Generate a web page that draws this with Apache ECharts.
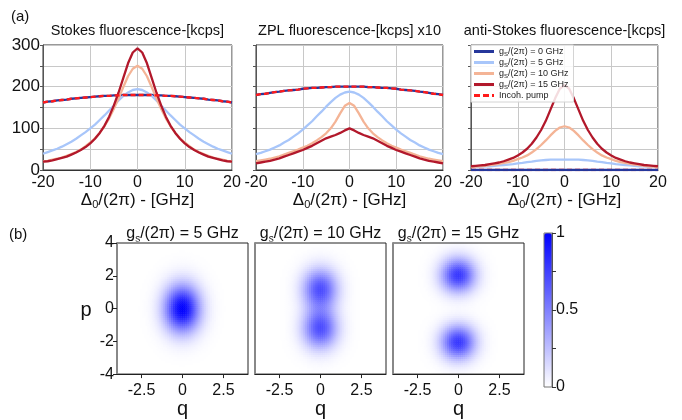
<!DOCTYPE html>
<html>
<head>
<meta charset="utf-8">
<script src="https://cdn.jsdelivr.net/npm/echarts@6/dist/echarts.min.js"></script>
<style>
  html, body { margin: 0; padding: 0; background: #ffffff; }
  #chart { width: 682px; height: 420px; }
</style>
</head>
<body>
<div id="chart"></div>
<script>
// Laser detuning Δ0/(2π) in GHz
const detuning = [-20,-19,-18,-17,-16,-15,-14,-13,-12,-11,-10,-9,-8,-7,-6,-5,-4,-3,-2,-1,0,
  1,2,3,4,5,6,7,8,9,10,11,12,13,14,15,16,17,18,19,20];

// Stokes fluorescence [kcps]
const stokesG0 = [162,164,165,167,168,169,171,172,173,174,175,176,177,178,178,179,179,180,180,180,180,
  180,180,180,179,179,178,178,177,176,175,174,173,172,171,169,168,167,165,164,162];
const stokesG5 = [39,43,47,51,56,62,68,75,83,91,100,109,120,131,143,155,167,178,186,192,194,
  192,186,178,167,155,143,131,120,109,100,91,83,75,68,62,56,51,47,43,39];
const stokesG10 = [21,22,25,27,30,34,38,43,49,57,66,76,89,105,124,147,172,199,225,243,250,
  243,225,199,172,147,124,105,89,76,66,57,49,43,38,34,30,27,25,22,21];
const stokesG15 = [20,21,23,26,29,32,37,42,48,55,64,75,89,106,128,155,186,221,256,282,292,
  282,256,221,186,155,128,106,89,75,64,55,48,42,37,32,29,26,23,21,20];
const stokesIncoh = [162,164,165,167,168,169,171,172,173,174,175,176,177,178,178,179,179,180,180,180,180,
  180,180,180,179,179,178,178,177,176,175,174,173,172,171,169,168,167,165,164,162];

// ZPL fluorescence [kcps] x10
const zplG0 = [180,182,183,185,187,188,190,191,192,193,195,196,197,197,198,199,199,200,200,200,200,
  200,200,200,199,199,198,197,197,196,195,193,192,191,190,188,187,185,183,182,180];
const zplG5 = [38,41,45,49,54,59,66,72,80,88,97,107,117,129,140,152,163,173,181,186,188,
  186,181,173,163,152,140,129,117,107,97,88,80,72,66,59,54,49,45,41,38];
const zplG10 = [21,23,25,27,30,33,37,41,45,49,54,58,64,71,79,88,100,116,136,154,161,
  154,136,116,100,88,79,71,64,58,54,49,45,41,37,33,30,27,25,23,21];
const zplG15 = [16,18,20,22,25,28,32,36,40,44,48,53,58,64,70,76,80,84,89,95,100,
  95,89,84,80,76,70,64,58,53,48,44,40,36,32,28,25,22,20,18,16];
const zplIncoh = [180,182,183,185,187,188,190,191,192,193,195,196,197,197,198,199,199,200,200,200,200,
  200,200,200,199,199,198,197,197,196,195,193,192,191,190,188,187,185,183,182,180];

// anti-Stokes fluorescence [kcps]
const antiG0 = [0,0,0,0,0,0,0,0,0,0,0,0,0,0,0,0,0,0,0,0,0,
  0,0,0,0,0,0,0,0,0,0,0,0,0,0,0,0,0,0,0,0];
const antiG5 = [7,8,8,9,9,10,11,12,13,14,16,17,19,20,22,23,24,25,25,25,25,
  25,25,25,24,23,22,20,19,17,16,14,13,12,11,10,9,9,8,8,7];
const antiG10 = [7,8,9,10,12,13,15,17,19,22,26,30,35,42,50,60,71,83,94,102,105,
  102,94,83,71,60,50,42,35,30,26,22,19,17,15,13,12,10,9,8,7];
const antiG15 = [9,10,11,12,14,16,18,21,25,29,35,42,51,63,78,96,118,145,172,195,204,
  195,172,145,118,96,78,63,51,42,35,29,25,21,18,16,14,12,11,10,9];
const antiIncoh = [0,0,0,0,0,0,0,0,0,0,0,0,0,0,0,0,0,0,0,0,0,
  0,0,0,0,0,0,0,0,0,0,0,0,0,0,0,0,0,0,0,0];

const seriesNames = ['gS/(2π) = 0 GHz', 'gS/(2π) = 5 GHz', 'gS/(2π) = 10 GHz', 'gS/(2π) = 15 GHz', 'Incoh. pump'];
const panelTitles = ['Stokes fluorescence-[kcps]', 'ZPL fluorescence-[kcps] x10', 'anti-Stokes fluorescence-[kcps]'];
const yTicks = [0, 100, 200, 300];

// Phase-space grid (q and p share the same sampling)
const qGrid = [-4,-3.875,-3.75,-3.625,-3.5,-3.375,-3.25,-3.125,-3,-2.875,-2.75,-2.625,-2.5,-2.375,-2.25,-2.125,
  -2,-1.875,-1.75,-1.625,-1.5,-1.375,-1.25,-1.125,-1,-0.875,-0.75,-0.625,-0.5,-0.375,-0.25,-0.125,0,
  0.125,0.25,0.375,0.5,0.625,0.75,0.875,1,1.125,1.25,1.375,1.5,1.625,1.75,1.875,2,
  2.125,2.25,2.375,2.5,2.625,2.75,2.875,3,3.125,3.25,3.375,3.5,3.625,3.75,3.875,4];
const pGrid = qGrid;

// Normalised distribution cross-sections along q (at the lobe centre) and along p (at q = 0)
const qProfileG5 = [0,0,0,0,0,0,0,0,0,0.001,0.001,0.002,0.004,0.007,0.011,0.018,0.029,0.044,0.066,0.096,0.135,
  0.186,0.249,0.325,0.411,0.506,0.607,0.707,0.801,0.882,0.946,0.986,1,
  0.986,0.946,0.882,0.801,0.707,0.607,0.506,0.411,0.325,0.249,0.186,0.135,0.096,0.066,0.044,0.029,
  0.018,0.011,0.007,0.004,0.002,0.001,0.001,0,0,0,0,0,0,0,0,0];
const pProfileG5 = [0,0.001,0.001,0.001,0.002,0.003,0.005,0.008,0.011,0.016,0.023,0.032,0.044,0.060,0.080,0.105,
  0.135,0.172,0.216,0.267,0.325,0.389,0.458,0.531,0.607,0.682,0.755,0.823,0.882,0.932,0.969,0.992,1,
  0.992,0.969,0.932,0.882,0.823,0.755,0.682,0.607,0.531,0.458,0.389,0.325,0.267,0.216,0.172,0.135,
  0.105,0.080,0.060,0.044,0.032,0.023,0.016,0.011,0.008,0.005,0.003,0.002,0.001,0.001,0.001,0];
const qProfileG10 = [0,0,0,0,0,0,0,0,0,0,0.001,0.001,0.002,0.004,0.008,0.013,0.021,0.034,0.052,0.078,0.114,
  0.161,0.222,0.295,0.381,0.478,0.581,0.686,0.786,0.873,0.941,0.985,1,
  0.985,0.941,0.873,0.786,0.686,0.581,0.478,0.381,0.295,0.222,0.161,0.114,0.078,0.052,0.034,0.021,
  0.013,0.008,0.004,0.002,0.001,0.001,0,0,0,0,0,0,0,0,0,0];
const pProfileG10 = [0.003,0.005,0.008,0.012,0.018,0.026,0.038,0.053,0.073,0.099,0.131,0.169,0.214,0.265,0.322,0.382,
  0.443,0.504,0.561,0.612,0.653,0.683,0.699,0.704,0.696,0.676,0.649,0.618,0.585,0.555,0.531,0.515,0.509,
  0.515,0.531,0.555,0.585,0.618,0.649,0.676,0.696,0.704,0.699,0.683,0.653,0.612,0.561,0.504,0.443,
  0.382,0.322,0.265,0.214,0.169,0.131,0.099,0.073,0.053,0.038,0.026,0.018,0.012,0.008,0.005,0.003];
const qProfileG15 = [0,0,0,0,0,0,0,0,0,0,0.001,0.001,0.002,0.004,0.008,0.013,0.021,0.034,0.052,0.078,0.114,
  0.161,0.222,0.295,0.381,0.478,0.581,0.686,0.786,0.873,0.941,0.985,1,
  0.985,0.941,0.873,0.786,0.686,0.581,0.478,0.381,0.295,0.222,0.161,0.114,0.078,0.052,0.034,0.021,
  0.013,0.008,0.004,0.002,0.001,0.001,0,0,0,0,0,0,0,0,0,0];
const pProfileG15 = [0.020,0.031,0.048,0.071,0.103,0.143,0.194,0.256,0.327,0.405,0.486,0.567,0.642,0.704,0.751,0.776,
  0.778,0.757,0.715,0.655,0.583,0.503,0.421,0.342,0.269,0.206,0.153,0.111,0.078,0.055,0.039,0.030,0.027,
  0.030,0.039,0.055,0.078,0.111,0.153,0.206,0.269,0.342,0.421,0.503,0.583,0.655,0.715,0.757,0.778,
  0.776,0.751,0.704,0.642,0.567,0.486,0.405,0.327,0.256,0.194,0.143,0.103,0.071,0.048,0.031,0.020];
const couplingLabels = ['5', '10', '15'];
const qTicks = [-2.5, 0, 2.5];
const colorbarLabels = [0, 0.5, 1];

// ---------------------------------------------------------------------------
const FONT = "'Liberation Sans', Arial, Helvetica, sans-serif";
const COLORS = ['#26379b', '#a8c6fa', '#f4b496', '#b2182b', '#ff1a1a'];
const SOLID_ICON = 'path://M0,0H20V3H0Z';
const DASH_ICON = 'path://M0,0H6V3H0Z M9,0H15V3H9Z M18,0H20V3H18Z';

const lineRects = [
  { left: 43, top: 45, width: 189, height: 125 },
  { left: 256, top: 45, width: 187, height: 125 },
  { left: 471, top: 45, width: 187, height: 125 }
];
const mapRects = [
  { left: 117, top: 243, width: 131, height: 133 },
  { left: 255, top: 243, width: 131, height: 133 },
  { left: 393, top: 243, width: 131, height: 133 }
];
const barRect = { left: 544, top: 233, width: 8, height: 154 };

const panelData = [
  [stokesG0, stokesG5, stokesG10, stokesG15, stokesIncoh],
  [zplG0, zplG5, zplG10, zplG15, zplIncoh],
  [antiG0, antiG5, antiG10, antiG15, antiIncoh]
];
const mapProfiles = [
  [qProfileG5, pProfileG5],
  [qProfileG10, pProfileG10],
  [qProfileG15, pProfileG15]
];

const grids = [], xAxes = [], yAxes = [], series = [], graphics = [];

const deltaName = '{t|Δ}{s|0}{t|/(2}{t|π}{t|) - [GHz]}';
const deltaRich = {
  t: { fontSize: 17, fontFamily: FONT, color: '#111', lineHeight: 20 },
  s: { fontSize: 11, fontFamily: FONT, color: '#111', lineHeight: 12, verticalAlign: 'bottom' }
};

lineRects.forEach((r, k) => {
  grids.push(Object.assign({ show: true, borderColor: '#333', borderWidth: 1, z: 0 }, r));
  xAxes.push({
    type: 'value', gridIndex: k, min: -20, max: 20, interval: 10,
    axisLine: { show: true, onZero: false, lineStyle: { color: '#333', width: 1 } },
    axisTick: { show: false },
    axisLabel: { fontSize: 16, fontFamily: FONT, color: '#111', margin: 5 },
    splitLine: { show: true, lineStyle: { color: '#c8c8c8', width: 1 } },
    name: deltaName, nameLocation: 'middle', nameGap: 16,
    nameTextStyle: { rich: deltaRich }
  });
  yAxes.push({
    type: 'value', gridIndex: k, min: 0, max: 300, interval: 50,
    axisLine: { show: true, onZero: false, lineStyle: { color: '#555', width: 1 } },
    axisTick: { show: true, length: 3, lineStyle: { color: '#555' } },
    axisLabel: {
      show: k === 0, fontSize: 17, fontFamily: FONT, color: '#111', margin: 3,
      formatter: v => (yTicks.indexOf(v) >= 0 ? String(v) : '')
    },
    splitLine: { show: true, lineStyle: { color: '#c8c8c8', width: 1 } }
  });
  // anti-Stokes panel: incoherent-pump trace sits under the 0 GHz trace
  const order = k === 2 ? [4, 0, 1, 2, 3] : [0, 1, 2, 3, 4];
  order.forEach(s => {
    const values = panelData[k][s];
    series.push({
      type: 'line', name: seriesNames[s], xAxisIndex: k, yAxisIndex: k,
      data: detuning.map((d, i) => [d, values[i]]),
      symbol: 'none', clip: true, animation: false,
      lineStyle: { color: COLORS[s], width: 2.3, type: s === 4 ? [5, 3] : 'solid' },
      itemStyle: { color: COLORS[s] }
    });
  });
  graphics.push({
    type: 'text', x: r.left + r.width / 2, y: 31,
    style: { text: panelTitles[k], font: '14.5px ' + FONT, fill: '#111', align: 'center', verticalAlign: 'middle' }
  });
});

// Phase-space distributions built from the q and p cross-sections
function densityCells(qProf, pProf) {
  const cells = [];
  qGrid.forEach((q, i) => {
    pGrid.forEach((p, j) => {
      cells.push([q, p, Math.round(qProf[i] * pProf[j] * 10000) / 10000]);
    });
  });
  return cells;
}

const firstMapSeries = series.length;
mapRects.forEach((r, k) => {
  const gi = 3 + k;
  grids.push(Object.assign({ show: true, borderColor: '#222', borderWidth: 1, z: 5 }, r));
  xAxes.push({
    type: 'value', gridIndex: gi, min: -4, max: 4, z: 6,
    axisLine: { show: true, onZero: false, lineStyle: { color: '#222', width: 1 } },
    axisTick: { show: true, length: 4, customValues: qTicks, lineStyle: { color: '#222' } },
    axisLabel: { fontSize: 16, fontFamily: FONT, color: '#111', margin: 8, customValues: qTicks },
    splitLine: { show: false },
    name: 'q', nameLocation: 'middle', nameGap: 22,
    nameTextStyle: { fontSize: 20, fontFamily: FONT, color: '#111' }
  });
  yAxes.push({
    type: 'value', gridIndex: gi, min: -4, max: 4, interval: 2, z: 6,
    axisLine: { show: true, onZero: false, lineStyle: { color: '#888', width: 2 } },
    axisTick: { show: k === 0, length: 4, lineStyle: { color: '#222' } },
    axisLabel: { show: k === 0, fontSize: 16, fontFamily: FONT, color: '#111', margin: 3 },
    splitLine: { show: false }
  });
  series.push({
    type: 'scatter', name: 'gs = ' + couplingLabels[k] + ' GHz',
    xAxisIndex: gi, yAxisIndex: gi,
    data: densityCells(mapProfiles[k][0], mapProfiles[k][1]),
    symbol: 'rect', symbolSize: [2.6, 2.7], clip: true, silent: true, animation: false,
    progressive: 0, progressiveThreshold: 100000, large: false,
    itemStyle: { opacity: 1 }
  });
  graphics.push({
    type: 'text', x: r.left + r.width / 2, y: 234,
    style: {
      text: '{m|g}{s|s}{m|/(2}{m|π}{m|) = ' + couplingLabels[k] + ' GHz}',
      align: 'center', verticalAlign: 'middle',
      rich: {
        m: { font: '16px ' + FONT, fill: '#111', lineHeight: 20 },
        s: { font: '10px ' + FONT, fill: '#111', lineHeight: 12, verticalAlign: 'bottom' }
      }
    }
  });
});

// Colour bar axis
grids.push(Object.assign({ show: true, borderColor: '#777', borderWidth: 1, z: 5 }, barRect));
xAxes.push({ type: 'value', gridIndex: 6, show: false, min: 0, max: 1 });
yAxes.push({
  type: 'value', gridIndex: 6, position: 'right', min: 0, max: 1, interval: 0.25, z: 6,
  axisLine: { show: true, onZero: false, lineStyle: { color: '#555', width: 1 } },
  axisTick: { show: true, length: 4, lineStyle: { color: '#333' } },
  axisLabel: {
    fontSize: 16, fontFamily: FONT, color: '#111', margin: 4,
    formatter: v => (colorbarLabels.indexOf(v) >= 0 ? String(v) : '')
  },
  splitLine: { show: false }
});
series.push({ type: 'line', xAxisIndex: 6, yAxisIndex: 6, data: [], silent: true });

graphics.push(
  { type: 'text', x: 11, y: 17, style: { text: '(a)', font: '15px ' + FONT, fill: '#111', verticalAlign: 'middle' } },
  { type: 'text', x: 9, y: 235, style: { text: '(b)', font: '15px ' + FONT, fill: '#111', verticalAlign: 'middle' } },
  { type: 'text', x: 86, y: 310, style: { text: 'p', font: '20px ' + FONT, fill: '#111', align: 'center', verticalAlign: 'middle' } }
);

const chart = echarts.init(document.getElementById('chart'), null, { renderer: 'canvas' });
chart.setOption({
  animation: false,
  backgroundColor: '#ffffff',
  textStyle: { fontFamily: FONT },
  grid: grids,
  xAxis: xAxes,
  yAxis: yAxes,
  legend: {
    data: seriesNames.map((n, i) => ({ name: n, icon: i === 4 ? DASH_ICON : SOLID_ICON })),
    orient: 'vertical', left: 471, top: 45,
    itemWidth: 20, itemHeight: 3, itemGap: 1, padding: [2, 5, 2, 3],
    backgroundColor: 'rgba(255,255,255,0.85)', borderColor: '#d4d4d4', borderWidth: 1,
    selectedMode: false,
    formatter: name => (name.charAt(0) === 'g'
      ? '{m|g}{s|S}{m|' + name.slice(2) + '}'
      : '{m|' + name + '}'),
    textStyle: {
      color: '#222',
      rich: {
        m: { fontSize: 9, fontFamily: FONT, color: '#222', lineHeight: 11 },
        s: { fontSize: 6, fontFamily: FONT, color: '#222', lineHeight: 8, verticalAlign: 'bottom' }
      }
    }
  },
  visualMap: {
    type: 'continuous', min: 0, max: 1, dimension: 2,
    seriesIndex: [firstMapSeries, firstMapSeries + 1, firstMapSeries + 2],
    inRange: { color: ['#ffffff', '#0000ff'] },
    show: true, calculable: false, hoverLink: false, text: null,
    left: barRect.left, top: barRect.top, itemWidth: barRect.width, itemHeight: barRect.height,
    padding: 0, showLabel: false
  },
  graphic: graphics,
  series: series
});
</script>
</body>
</html>
